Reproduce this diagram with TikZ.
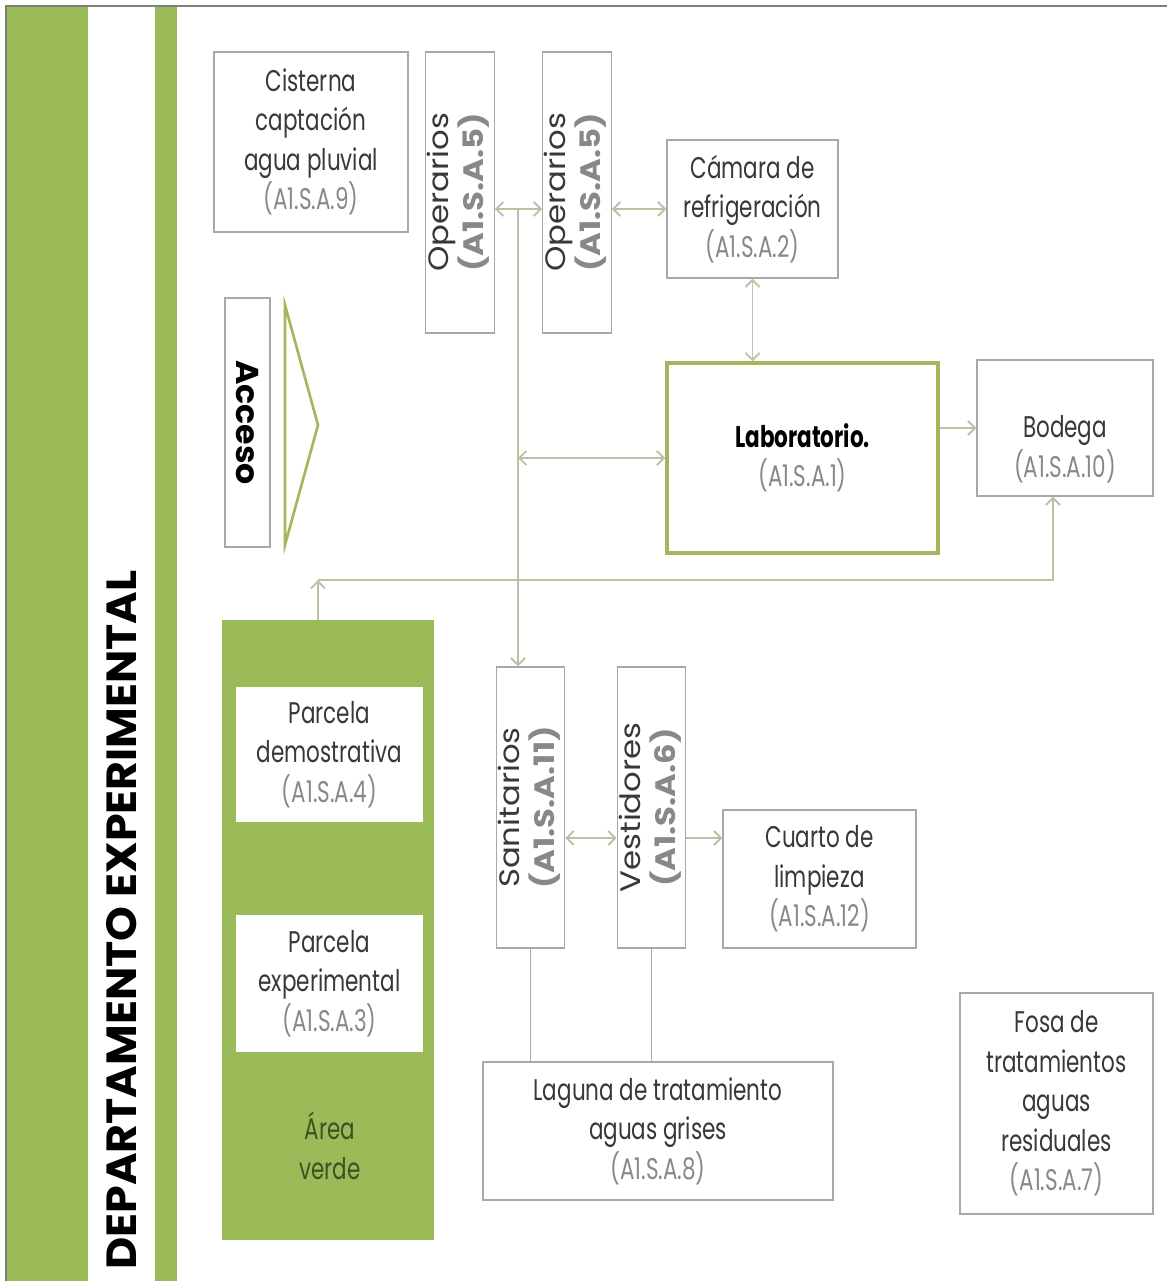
\documentclass[tikz,border=0pt]{standalone}
\usepackage{fontspec}
\usepackage{graphicx}
\setmainfont{Poppins}[FakeStretch=0.72]
\newfontfamily\rotfont{Poppins}[FakeStretch=1.15]
\newfontfamily\titfont{Poppins}[FakeStretch=1.05]
\usetikzlibrary{arrows.meta}
\definecolor{verde}{HTML}{9BBB59}
\definecolor{verdeosc}{HTML}{3B5323}
\definecolor{oliva}{HTML}{A6B65C}
\definecolor{enlace}{HTML}{B9C2A2}
\definecolor{borde}{HTML}{A8A8A8}
\definecolor{texto}{HTML}{383838}
\definecolor{codigo}{HTML}{888888}
\newcommand{\px}{0.02cm}
\newcommand{\cod}[1]{{\color{codigo}(#1)}}
\newcommand{\vtxt}[2]{\rotatebox{90}{\rotfont\fontsize{16}{17}\selectfont\begin{tabular}{@{}c@{}}#1\\{\bfseries\color{codigo}(#2)}\end{tabular}}}
\begin{document}
\begin{tikzpicture}[x=0.02cm,y=-0.02cm,>={Straight Barb[length=4pt,width=8pt]},
  sala/.style={draw=borde,line width=0.8pt,fill=white,text=texto,align=center,inner sep=1pt,font=\fontsize{17}{22.5}\selectfont},
  enl/.style={draw=enlace,line width=1.1pt}]
\useasboundingbox (0,0) rectangle (1167,1281);
% Franjas laterales
\fill[verde] (6,6) rectangle (88,1281);
\fill[verde] (155,6) rectangle (177,1281);
\draw[gray,line width=1.2pt] (6,1281) -- (6,6) -- (1167,6);
\node[font=\titfont\bfseries\fontsize{24}{24}\selectfont] (depto) at (122,920) {\rotatebox{90}{DEPARTAMENTO EXPERIMENTAL}};
% Salas
\foreach \n/\x/\y/\w/\h/\t in {cisterna/311/142/194/180/{Cisterna\\captación\\agua pluvial\\\cod{A1.S.A.9}},
  camara/752.5/209/171/138/{Cámara de\\refrigeración\\\cod{A1.S.A.2}},
  cuarto/819.5/879/193/138/{Cuarto de\\limpieza\\\cod{A1.S.A.12}},
  laguna/658/1131/350/138/{Laguna de tratamiento\\aguas grises\\\cod{A1.S.A.8}},
  fosa/1056.5/1103.5/193/221/{Fosa de\\tratamientos\\aguas\\residuales\\\cod{A1.S.A.7}}}
  {\node[sala,minimum width=\w*\px,minimum height=\h*\px] (\n) at (\x,\y) {\t};}
\node[sala,minimum width=176*\px,minimum height=136*\px,
  label={[sala,draw=none,fill=none,yshift=-0.42cm]center:{Bodega\\\cod{A1.S.A.10}}}] (bodega) at (1065,428) {};
\foreach \n/\x/\y/\t/\c in {op1/460/192.5/Operarios/A1.S.A.5,op2/577/192.5/Operarios/A1.S.A.5,
  sanit/530.5/807.5/Sanitarios/A1.S.A.11,vest/651.5/807.5/Vestidores/A1.S.A.6}
  {\node[sala,minimum width=67*\px,minimum height=281*\px] (\n) at (\x,\y) {\vtxt{\t}{\c}};}
\node[sala,draw=oliva,line width=2pt,minimum width=271*\px,minimum height=190*\px] (lab) at (802.5,458) {{\bfseries\color{black}Laboratorio.}\\\cod{A1.S.A.1}};
% Acceso
\node[sala,text=black,minimum width=45*\px,minimum height=249*\px,font=\titfont\bfseries\fontsize{18}{18}\selectfont] (acceso) at (247.5,422.5) {\rotatebox{-90}{Acceso}};
\draw[oliva,line width=1.5pt] (285,305) -- (318,425) -- (285,545) -- cycle;
% Area verde
\node[fill=verde,minimum width=212*\px,minimum height=620*\px] (verde) at (328,930) {};
\node[sala,draw=none,minimum width=187*\px,minimum height=135*\px] (demo) at (329.5,754.5) {Parcela\\demostrativa\\\cod{A1.S.A.4}};
\node[sala,draw=none,minimum width=187*\px,minimum height=137*\px] (expe) at (329.5,983.5) {Parcela\\experimental\\\cod{A1.S.A.3}};
\node[sala,draw=none,fill=none,text=verdeosc] (areav) at (330,1146) {Área\\verde};
% Conexiones
\coordinate (j0) at (518,209);
\coordinate (j1) at (318,580);
\coordinate (j2) at (0,838);
\draw[enl,<->] (op1.east |- j0) -- (op2.west |- j0);
\draw[enl,<->] (op2.east |- j0) -- (camara.west |- j0);
\draw[enl,->] (j0) -- (j0 |- sanit.north);
\draw[enl,<->] (j0 |- lab) -- (lab.west);
\draw[enl,<->] (camara.south) -- (camara.south |- lab.north);
\draw[enl,->] (lab.east |- bodega) -- (bodega.west);
\draw[enl,->] (verde.north -| j1) -- (j1);
\draw[enl,->] (j1) -| ([xshift=-0.24cm]bodega.south);
\draw[enl,<->] (sanit.east |- j2) -- (vest.west |- j2);
\draw[enl,->] (vest.east |- j2) -- (cuarto.west |- j2);
\draw[borde,line width=0.8pt] (sanit.south) -- (sanit.south |- laguna.north);
\draw[borde,line width=0.8pt] (vest.south) -- (vest.south |- laguna.north);
\end{tikzpicture}
\end{document}
